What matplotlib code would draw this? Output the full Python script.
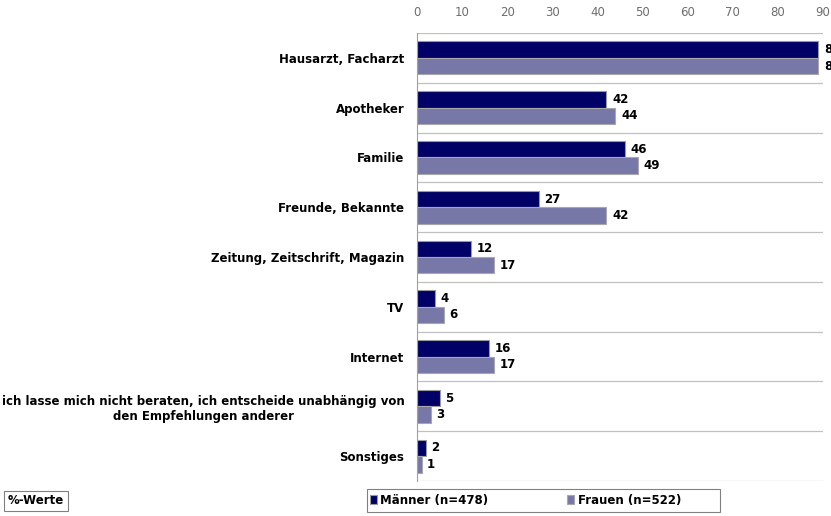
import matplotlib.pyplot as plt
from matplotlib.patches import Rectangle
import numpy as np

categories = ["Hausarzt, Facharzt", "Apotheker", "Familie", "Freunde, Bekannte",
              "Zeitung, Zeitschrift, Magazin", "TV", "Internet",
              "ich lasse mich nicht beraten, ich entscheide unabhängig von\nden Empfehlungen anderer",
              "Sonstiges"]
maenner = [89, 42, 46, 27, 12, 4, 16, 5, 2]
frauen = [89, 44, 49, 42, 17, 6, 17, 3, 1]
series_names = ["Männer (n=478)", "Frauen (n=522)"]
xticks = [0, 10, 20, 30, 40, 50, 60, 70, 80, 90]

c_m = "#000066"
c_f = "#7878A8"
grid_c = "#C0C0C0"
fs = 8.5

fig = plt.figure(figsize=(8.31, 5.16), dpi=100)
ax = fig.add_axes([417 / 831, 1 - 481 / 516, 406 / 831, 448 / 516])

y = np.arange(len(categories))
h = 0.33
b1 = ax.barh(y - h / 2, maenner, height=h, color=c_m, edgecolor="#9A9A9A", linewidth=0.8,
             label=series_names[0])
b2 = ax.barh(y + h / 2, frauen, height=h, color=c_f, edgecolor="#A8A8A8", linewidth=0.8,
             label=series_names[1])

for bars, vals in ((b1, maenner), (b2, frauen)):
    for bar, v in zip(bars, vals):
        ax.annotate(str(v), (v, bar.get_y() + bar.get_height() / 2), xytext=(4, 0),
                    textcoords="offset points", va="center", ha="left",
                    fontsize=fs, fontweight="bold", annotation_clip=False)

ax.set_xlim(0, 90)
ax.set_ylim(len(categories) - 0.5, -0.5)
ax.set_xticks(xticks)
ax.xaxis.tick_top()
ax.tick_params(axis="x", length=0, labelsize=fs, labelcolor="#6E6E6E", pad=10)
ax.set_yticks(y)
ax.set_yticklabels(categories, fontsize=fs, fontweight="bold")
for lab in ax.get_yticklabels():
    lab.set_multialignment("center")
ax.tick_params(axis="y", length=0, pad=9)

for b in np.arange(-0.5, len(categories), 1.0):
    ax.axhline(b, color=grid_c, linewidth=0.9, zorder=0)
for s in ("top", "right", "bottom"):
    ax.spines[s].set_visible(False)
ax.spines["left"].set_color("#A0A0A0")

# legend box drawn separately so its width matches the reference
fig.patches.append(Rectangle((367 / 831, 1 - 512 / 516), 353 / 831, 23 / 516,
                             transform=fig.transFigure, facecolor="white",
                             edgecolor="#808080", linewidth=0.8))
leg = fig.legend(handles=[b1, b2], loc="center left",
                 bbox_to_anchor=(366 / 831, 1 - 500.5 / 516),
                 ncol=2, borderaxespad=0, frameon=False,
                 prop={"size": fs, "weight": "bold"}, handlelength=0.6, handleheight=0.8,
                 handletextpad=0.3, columnspacing=6.7, borderpad=0.3)

fig.text(8 / 831, 1 - 501 / 516, "%-Werte", fontsize=fs, fontweight="bold", va="center",
         bbox=dict(boxstyle="square,pad=0.3", facecolor="white", edgecolor="#808080",
                   linewidth=0.8))

fig.savefig("out.png", dpi=100)
